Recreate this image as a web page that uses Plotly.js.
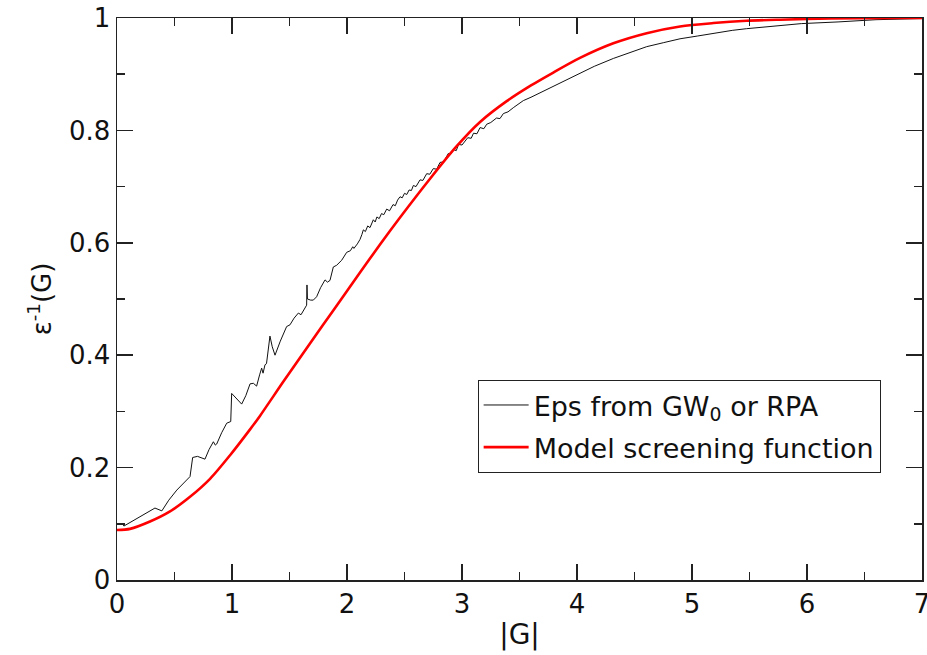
<!DOCTYPE html>
<html>
<head>
<meta charset="utf-8">
<script src="https://cdn.plot.ly/plotly-3.0.1.min.js"></script>
<style>html,body{margin:0;padding:0;background:#fff;}#chart{width:927px;height:655px;}</style>
</head>
<body>
<div id="chart"></div>
<script>
// Eps from GW0 or RPA (black, noisy)
var epsX = [0.00,0.05,0.06,0.15,0.25,0.33,0.39,0.45,0.52,0.58,0.635,0.658,0.70,0.765,0.80,0.838,0.855,0.867,0.91,0.954,0.989,0.997,1.04,1.084,1.12,1.157,1.186,1.214,1.24,1.258,1.27,1.287,1.30,1.330,1.35,1.374,1.42,1.475,1.504,1.54,1.577,1.60,1.649,1.652,1.656,1.684,1.707,1.736,1.77,1.809,1.83,1.852,1.881,1.910,1.954,1.997,2.03,2.05,2.06,2.09,2.113,2.13,2.142,2.16,2.18,2.20,2.229,2.245,2.26,2.28,2.30,2.32,2.345,2.37,2.40,2.42,2.44,2.461,2.48,2.50,2.52,2.54,2.56,2.577,2.60,2.635,2.66,2.693,2.72,2.75,2.78,2.809,2.84,2.881,2.90,2.925,2.95,2.97,3.00,3.05,3.08,3.10,3.13,3.157,3.19,3.215,3.25,3.30,3.33,3.36,3.40,3.45,3.504,3.533,3.60,3.70,3.794,3.90,4.026,4.15,4.316,4.45,4.606,4.75,4.896,5.05,5.186,5.35,5.475,5.62,5.765,5.95,6.27,6.6,7.0];
var epsY = [0.100,0.100,0.096,0.107,0.118,0.128,0.123,0.142,0.160,0.172,0.184,0.218,0.220,0.215,0.232,0.246,0.240,0.242,0.262,0.279,0.282,0.332,0.322,0.313,0.328,0.349,0.350,0.345,0.365,0.377,0.368,0.383,0.385,0.434,0.415,0.400,0.425,0.451,0.454,0.466,0.475,0.472,0.489,0.525,0.500,0.498,0.498,0.504,0.520,0.534,0.530,0.533,0.557,0.560,0.569,0.583,0.586,0.593,0.590,0.598,0.606,0.615,0.623,0.620,0.630,0.627,0.641,0.637,0.646,0.643,0.652,0.650,0.660,0.657,0.668,0.666,0.676,0.682,0.680,0.688,0.686,0.694,0.693,0.702,0.700,0.712,0.711,0.723,0.722,0.732,0.731,0.743,0.744,0.759,0.757,0.766,0.764,0.775,0.774,0.787,0.786,0.795,0.794,0.805,0.803,0.811,0.814,0.822,0.821,0.830,0.833,0.841,0.848,0.853,0.859,0.869,0.878,0.888,0.902,0.914,0.928,0.938,0.949,0.956,0.963,0.968,0.973,0.978,0.981,0.984,0.987,0.990,0.993,0.997,0.999];

// Model screening function (red, smooth)
var modelX = [0,0.113,0.287,0.461,0.635,0.809,0.983,1.157,1.243,1.45,1.678,1.896,2.113,2.287,2.461,2.722,2.95,3.157,3.389,3.60,3.794,4.026,4.316,4.606,4.896,5.186,5.475,5.765,6.2,6.8,7.0];
var modelY = [0.089,0.091,0.104,0.122,0.148,0.180,0.222,0.268,0.292,0.354,0.421,0.484,0.547,0.597,0.645,0.714,0.771,0.815,0.852,0.880,0.903,0.929,0.955,0.973,0.985,0.991,0.995,0.997,0.999,1.0,1.0];

var seriesNames = ["Eps from GW<sub>0</sub> or RPA", "Model screening function"];
var xTickVals = [0,1,2,3,4,5,6,7];
var xTickText = ["0","1","2","3","4","5","6","7"];
var yTickVals = [0,0.2,0.4,0.6,0.8,1];
var yTickText = ["0","0.2","0.4","0.6","0.8","1"];

var FONT = "DejaVu Sans, Liberation Sans, sans-serif";

var traces = [
  {x: epsX, y: epsY, type: "scatter", mode: "lines", name: seriesNames[0],
   line: {color: "#111111", width: 1}, legendgroup: "a"},
  {x: modelX, y: modelY, type: "scatter", mode: "lines", name: seriesNames[1],
   line: {color: "#ff0000", width: 2.6, shape: "spline", smoothing: 0.8}, legendgroup: "b"}
];

var axisCommon = {
  showgrid: false, zeroline: false, showline: true, linecolor: "#222", linewidth: 1.5,
  mirror: "allticks", ticks: "inside", ticklen: 16, tickwidth: 1.5, tickcolor: "#222",
  tickfont: {family: FONT, size: 26, color: "#111"}, ticklabeloverflow: "allow"
};

var layout = {
  width: 927, height: 655,
  margin: {l: 117, r: 5, t: 18, b: 75},
  paper_bgcolor: "#fff", plot_bgcolor: "#fff",
  font: {family: FONT, color: "#111"},
  showlegend: true,
  legend: {
    x: 0.448, y: 0.356, xanchor: "left", yanchor: "top",
    bordercolor: "#222", borderwidth: 1, bgcolor: "#fff",
    font: {family: FONT, size: 27, color: "#111"},
    traceorder: "grouped", tracegroupgap: 4, itemwidth: 45
  },
  xaxis: Object.assign({}, axisCommon, {
    range: [0, 7], tickvals: xTickVals, ticktext: xTickText,
    minor: {dtick: 0.5, ticks: "inside", ticklen: 8, tickwidth: 1.5, tickcolor: "#222"},
    title: {text: "|G|", font: {family: FONT, size: 28, color: "#111"}, standoff: 6}
  }),
  yaxis: Object.assign({}, axisCommon, {
    range: [0, 1], tickvals: yTickVals, ticktext: yTickText,
    minor: {dtick: 0.1, ticks: "inside", ticklen: 8, tickwidth: 1.5, tickcolor: "#222"},
    title: {text: "ε<sup>-1</sup>(G)", font: {family: FONT, size: 26, color: "#111"}, standoff: 10}
  })
};

Plotly.newPlot("chart", traces, layout, {displayModeBar: false, staticPlot: true});
</script>
</body>
</html>
